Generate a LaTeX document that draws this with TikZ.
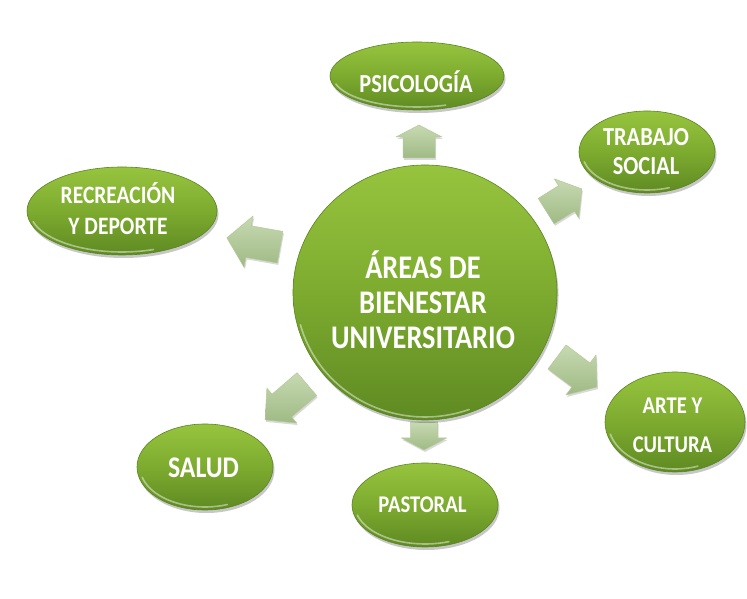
\documentclass[tikz,border=0pt]{standalone}
\usepackage{fontspec}
\newfontfamily\lblfont[FakeStretch=0.86]{Carlito}
\usetikzlibrary{shapes.geometric,shadows,calc}
\definecolor{gtop}{HTML}{97C43E}
\definecolor{gmid}{HTML}{7DAB2F}
\definecolor{gbot}{HTML}{5E8A22}
\definecolor{gedge}{HTML}{5A8520}
\definecolor{atop}{HTML}{C7D9B2}
\definecolor{abot}{HTML}{9FBA84}
\definecolor{aedge}{HTML}{B3C99B}
\tikzset{
  blob/.style={ellipse, inner sep=0pt, draw=gedge, line width=0.6pt,
    top color=gtop, bottom color=gbot, middle color=gmid,
    drop shadow={shadow xshift=1.5pt, shadow yshift=-3pt, opacity=0.22, fill=black}},
  lbl/.style={text=white, font=\lblfont\bfseries, align=center, inner sep=0pt},
  barrow/.style={top color=atop, bottom color=abot, draw=aedge, line width=0.5pt, line join=round,
    drop shadow={shadow xshift=1pt, shadow yshift=-2pt, opacity=0.15, fill=black}},
  gloss/.style={draw=white, opacity=0.45, line width=1.6pt, line cap=round}
}
% \mkblob{name}{x}{y}{rx}{ry}
\newcommand\mkblob[5]{%
  \node[blob, minimum width=#4*2pt, minimum height=#5*2pt] (#1) at (#2,#3) {};
  \draw[gloss] ($(#1.center)+(195:#4-3 and #5-3)$) arc[start angle=195, end angle=290, x radius=#4-3, y radius=#5-3];
}
% \mkarrow{name}{x}{y}{angle}{L}{hl}{hw}{bw}
\newcommand\mkarrow[8]{%
  \begin{scope}[shift={(#2,#3)}, rotate=#4]
    \path[barrow] (-#5/2, #8/2) -- (#5/2-#6, #8/2) -- (#5/2-#6, #7/2) -- (#5/2, 0)
      -- (#5/2-#6, -#7/2) -- (#5/2-#6, -#8/2) -- (-#5/2, -#8/2) -- cycle;
    \coordinate (#1) at (0,0);
  \end{scope}
}
\begin{document}
\begin{tikzpicture}[x=1pt, y=1pt]
\useasboundingbox (0,0) rectangle (747,599);
\fill[white] (0,0) rectangle (747,599);

% block arrows
\mkarrow{a-psi}{419}{457.5}{90}{33}{12}{46}{32}
\mkarrow{a-ts}{564}{399}{32}{42}{18}{46}{30}
\mkarrow{a-rd}{253.5}{356.5}{170}{54}{22}{52}{32}
\mkarrow{a-ac}{577}{227}{-37}{50}{20}{50}{30}
\mkarrow{a-sa}{286}{197}{220.6}{55}{22}{46}{30}
\mkarrow{a-pa}{424}{163}{-90}{28}{12}{45}{27}

% outer ellipses
\mkblob{psi}{417}{523}{87}{34}
\mkblob{ts}{647}{447}{68}{41}
\mkblob{rd}{122}{388}{95}{44}
\mkblob{sa}{205}{132}{68}{43}
\mkblob{pa}{425}{94}{73}{42}
\mkblob{ac}{675}{177}{70}{50}
% central ellipse
\mkblob{c}{425}{306.5}{132}{127.5}

% labels
\node[lbl, font=\lblfont\bfseries\fontsize{33}{35}\selectfont] (c-t) at (423,299) {ÁREAS DE\\BIENESTAR\\UNIVERSITARIO};
\node[lbl, font=\lblfont\bfseries\fontsize{26}{26}\selectfont] (psi-t) at (416,517) {PSICOLOGÍA};
\node[lbl, font=\lblfont\bfseries\fontsize{26}{29}\selectfont] (ts-t) at (646,447) {TRABAJO\\SOCIAL};
\node[lbl, font=\lblfont\bfseries\fontsize{25}{31}\selectfont] (rd-t) at (118,390) {RECREACIÓN\\Y DEPORTE};
\node[lbl, font=\lblfont\bfseries\fontsize{30}{30}\selectfont] (sa-t) at (203.5,131.5) {SALUD};
\node[lbl, font=\lblfont\bfseries\fontsize{24}{24}\selectfont] (pa-t) at (422.5,94.5) {PASTORAL};
\node[lbl, font=\lblfont\bfseries\fontsize{24}{39}\selectfont] (ac-t) at (672.5,174) {ARTE Y\\CULTURA};
\end{tikzpicture}
\end{document}
